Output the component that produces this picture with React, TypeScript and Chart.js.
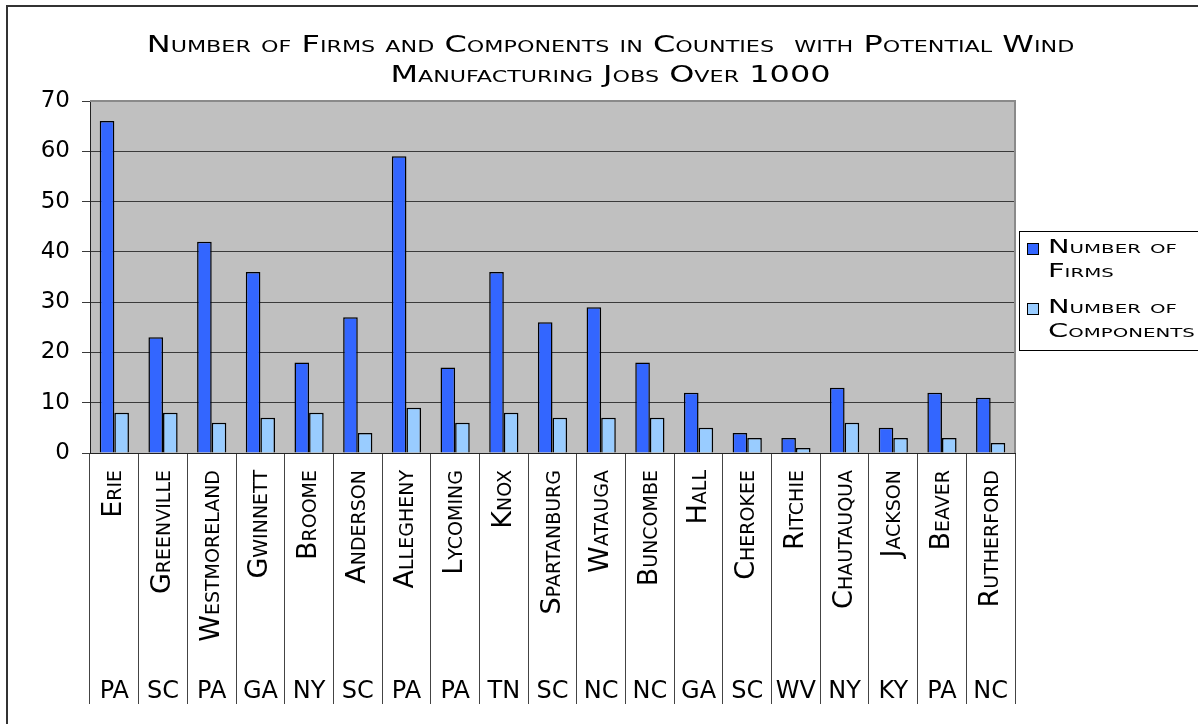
import React, { useEffect, useRef } from 'react';
import { Chart, registerables } from 'chart.js';

Chart.register(...registerables);

// Counties and their states, in plotting order
const counties = [
  'Erie', 'Greenville', 'Westmoreland', 'Gwinnett', 'Broome', 'Anderson', 'Allegheny',
  'Lycoming', 'Knox', 'Spartanburg', 'Watauga', 'Buncombe', 'Hall', 'Cherokee',
  'Ritchie', 'Chautauqua', 'Jackson', 'Beaver', 'Rutherford',
];
const states = [
  'PA', 'SC', 'PA', 'GA', 'NY', 'SC', 'PA', 'PA', 'TN', 'SC', 'NC', 'NC', 'GA', 'SC',
  'WV', 'NY', 'KY', 'PA', 'NC',
];

// Series values
const firms = [66, 23, 42, 36, 18, 27, 59, 17, 36, 26, 29, 18, 12, 4, 3, 13, 5, 12, 11];
const components = [8, 8, 6, 7, 8, 4, 9, 6, 8, 7, 7, 7, 5, 3, 1, 6, 3, 3, 2];

const seriesNames = ['Number of Firms', 'Number of Components'];
const legendLines = [['Number of', 'Firms'], ['Number of', 'Components']];
const titleLines = [
  'Number of Firms and Components in Counties  with Potential Wind',
  'Manufacturing Jobs Over 1000',
];

const yMin = 0;
const yMax = 70;
const yStep = 10;

const FAMILY = '"DejaVu Sans", sans-serif';
// Chart.js passes weight straight into the canvas font string, so it carries the small-caps variant
const smallCaps = (size: number) => ({ family: FAMILY, size, weight: 'small-caps' as any });

// Grey plot area with a lighter frame on top and right
const plotFrame = {
  id: 'plotFrame',
  beforeDraw(chart: any) {
    const { ctx, chartArea } = chart;
    const { left, top, right, bottom } = chartArea;
    ctx.save();
    ctx.fillStyle = '#C0C0C0';
    ctx.fillRect(left, top, right - left, bottom - top);
    ctx.restore();
  },
  afterDatasetsDraw(chart: any) {
    const { ctx, chartArea } = chart;
    const { left, top, right, bottom } = chartArea;
    ctx.save();
    ctx.strokeStyle = '#8a8a8a';
    ctx.lineWidth = 2;
    ctx.beginPath();
    ctx.moveTo(left, top);
    ctx.lineTo(right, top);
    ctx.lineTo(right, bottom);
    ctx.stroke();
    ctx.restore();
  },
};

// Wide small-caps title, two centred lines
const wideTitle = {
  id: 'wideTitle',
  afterDraw(chart: any, _args: any, opts: any) {
    const ctx = chart.ctx;
    ctx.save();
    ctx.font = `small-caps ${opts.size}px ${FAMILY}`;
    ctx.fillStyle = '#000';
    ctx.textAlign = 'center';
    ctx.textBaseline = 'middle';
    opts.lines.forEach((line: string, i: number) => {
      ctx.save();
      ctx.translate(chart.width / 2 + opts.dx, opts.y + i * opts.lineHeight);
      ctx.scale(opts.stretch, 1);
      ctx.fillText(line, 0, 0);
      ctx.restore();
    });
    ctx.restore();
  },
};

// Boxed legend at the right with two-line entries
const boxedLegend = {
  id: 'boxedLegend',
  afterDraw(chart: any, _args: any, opts: any) {
    const ctx = chart.ctx;
    const x = chart.chartArea.right + opts.gap;
    const y = opts.top;
    ctx.save();
    ctx.fillStyle = '#fff';
    ctx.fillRect(x, y, opts.width, opts.height);
    ctx.strokeStyle = '#000';
    ctx.lineWidth = 1;
    ctx.strokeRect(x + 0.5, y + 0.5, opts.width, opts.height);
    ctx.font = `small-caps ${opts.size}px ${FAMILY}`;
    ctx.textBaseline = 'middle';
    ctx.textAlign = 'left';
    chart.data.datasets.forEach((ds: any, i: number) => {
      const itemTop = y + opts.padTop + i * opts.itemGap;
      ctx.fillStyle = ds.backgroundColor;
      ctx.fillRect(x + 8, itemTop, opts.box, opts.box);
      ctx.strokeStyle = '#000';
      ctx.strokeRect(x + 8.5, itemTop + 0.5, opts.box, opts.box);
      ctx.fillStyle = '#000';
      opts.lines[i].forEach((line: string, j: number) => {
        ctx.save();
        ctx.translate(x + 29, itemTop + opts.box / 2 + j * opts.lineHeight);
        ctx.scale(opts.stretch, 1);
        ctx.fillText(line, 0, 0);
        ctx.restore();
      });
    });
    ctx.restore();
  },
};

function FirmsChart() {
  const canvasRef = useRef<HTMLCanvasElement>(null);

  useEffect(() => {
    if (!canvasRef.current) return;
    const chart = new Chart(canvasRef.current, {
      type: 'bar',
      data: {
        labels: counties,
        datasets: [
          {
            label: seriesNames[0],
            data: firms,
            backgroundColor: '#3366FF',
            borderColor: '#000',
            borderWidth: 1.5,
            categoryPercentage: 0.6,
            barPercentage: 1,
          },
          {
            label: seriesNames[1],
            data: components,
            backgroundColor: '#99CCFF',
            borderColor: '#000',
            borderWidth: 1.5,
            categoryPercentage: 0.6,
            barPercentage: 1,
          },
        ],
      },
      options: {
        responsive: false,
        animation: false,
        devicePixelRatio: 1,
        layout: { padding: { top: 94, right: 200, bottom: 54, left: 0 } },
        plugins: {
          legend: { display: false },
          title: { display: false },
          tooltip: { enabled: false },
          wideTitle: { lines: titleLines, size: 23, stretch: 1.39, y: 39, lineHeight: 30.5, dx: -1 },
          boxedLegend: {
            lines: legendLines, size: 19, stretch: 1.52, gap: 4, top: 224,
            width: 200, height: 119, padTop: 12, itemGap: 60, box: 11, lineHeight: 24,
          },
        } as any,
        scales: {
          x: {
            type: 'category',
            offset: true,
            weight: 0,
            grid: {
              offset: true,
              drawOnChartArea: false,
              drawTicks: true,
              tickLength: 251,
              color: '#444',
              lineWidth: 1,
            },
            border: { display: true, color: '#222', width: 1 },
            ticks: {
              autoSkip: false,
              minRotation: 90,
              maxRotation: 90,
              padding: -234,
              color: '#000',
              font: smallCaps(27),
            },
            afterFit(scale: any) {
              scale.height = 200;
            },
          },
          x2: {
            type: 'category',
            labels: states,
            position: 'bottom',
            offset: true,
            weight: 1,
            grid: { display: false, drawTicks: false },
            border: { display: false },
            ticks: { autoSkip: false, maxRotation: 0, minRotation: 0, padding: 24, color: '#000', font: { family: FAMILY, size: 24 } },
            afterFit(scale: any) {
              scale.height = 60;
            },
          },
          y: {
            min: yMin,
            max: yMax,
            ticks: { stepSize: yStep, padding: 12, color: '#000', font: { family: FAMILY, size: 23 } },
            grid: { color: '#3a3a3a', lineWidth: 1, drawTicks: true, tickLength: 8 },
            border: { display: true, color: '#222', width: 1 },
            afterFit(scale: any) {
              scale.width = 82;
            },
          },
        },
      },
      plugins: [plotFrame, wideTitle, boxedLegend],
    });
    return () => chart.destroy();
  }, []);

  return <canvas ref={canvasRef} width={1207} height={760} style={{ display: 'block' }} />;
}

export default function App() {
  return (
    <div
      style={{
        position: 'fixed',
        left: 6,
        top: 5,
        width: 1300,
        height: 800,
        borderTop: '2px solid #333',
        borderLeft: '2px solid #333',
        background: '#fff',
      }}
    >
      <FirmsChart />
    </div>
  );
}
